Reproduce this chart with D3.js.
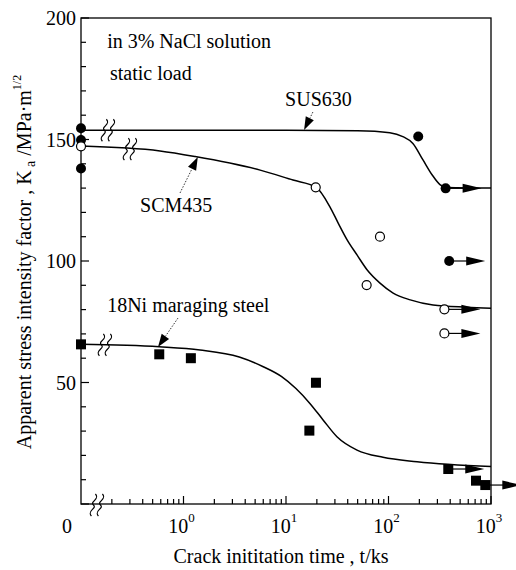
<!DOCTYPE html>
<html><head><meta charset="utf-8">
<script src="https://cdn.jsdelivr.net/npm/d3@7"></script>
<style>
body{margin:0;background:#fff}
</style>
</head><body>
<svg id="chart" width="516" height="570" font-family="'Liberation Serif', 'Times New Roman', Times, serif"></svg>
<script>
// ---------- data (t in ks, K in MPa·m^1/2; t = 0 means the "0" position before the axis break) ----------
const sus630Points  = [[0,154.6],[0,149.8],[0,138.1],[195,151.2]];
const sus630Runouts = [[361,129.9],[391,100.0]];
const scm435Points  = [[0,147.2],[19.5,130.3],[82.6,110.0],[61.2,90.1]];
const scm435Runouts = [[351,80.1],[351,70.2]];
const ni18Points    = [[0,65.7],[0.58,61.6],[1.18,60.0],[19.6,49.9],[16.9,30.2],[714,9.6]];
const ni18Runouts   = [[383,14.4],[880,7.8]];

const sus630Curve = [[0,153.8],[1,153.8],[10,153.8],[50,153.6],[103,152.8],[138,151.2],[173,148.4],[217,141.6],[267,135.4],[320,131.3],[374,130.2],[1000,130.0]];
const scm435Curve = [[0,147.3],[0.59,145.3],[1.3,143.0],[5.6,137.4],[11.7,133.3],[19.6,130.4],[26.9,122.2],[32.3,115.6],[39.6,108.6],[49.3,102.5],[62,96.3],[82.6,90.9],[111,86.8],[163,84.0],[272,81.9],[580,81.0],[1000,80.6]];
const ni18Curve   = [[0,65.7],[0.58,64.7],[1.45,63.4],[3.5,60.5],[6,56.5],[9,52.5],[12.5,47.5],[17.1,41.4],[23,34.6],[31.4,27.7],[49.3,22.2],[88.4,19.2],[190,17.4],[1000,15.4]];

// curve breaks [t, K]
const curveBreaks = [[0.183,153.8],[0.30,146.0],[0.171,65.5]];
const axisBreakT = 0.143;

const yTicks = [0,50,100,150,200];
const yMinorTicks = d3.range(10,200,10).filter(v => v % 50 !== 0);
const xTickExps = [0,1,2,3];

// annotations: text, t, K (baseline start)
const noteTexts = [
  {text:"in 3% NaCl solution", t:0.18, K:187.6},
  {text:"static load", t:0.192, K:174.5},
  {text:"SUS630", t:9.8, K:163.8},
  {text:"SCM435", t:0.377, K:120.2},
  {text:"18Ni maraging steel", t:0.18, K:79.0}
];
// pointer arrows: from [t,K] to [t,K]
const pointers = [
  {from:[18.3,161.3], to:[15.0,153.9]},
  {from:[0.925,128.0], to:[1.38,142.8]},
  {from:[0.883,76.5], to:[0.564,64.6]}
];

// ---------- chart ----------
const svg = d3.select("#chart");
const x = d3.scaleLog().domain([0.1,1000]).range([81,491]);
const y = d3.scaleLinear().domain([0,200]).range([504,18]);
const X = t => t === 0 ? x.range()[0] : x(t);

// frame
svg.append("rect").attr("x",81).attr("y",18).attr("width",410).attr("height",486)
  .attr("fill","none").attr("stroke","#000").attr("stroke-width",1.3);

// y ticks
const g = svg.append("g");
yTicks.forEach(v => {
  g.append("line").attr("x1",81).attr("x2",89).attr("y1",y(v)).attr("y2",y(v)).attr("stroke","#000").attr("stroke-width",1.2);
  if (v !== 0) g.append("text").attr("x",76).attr("y",y(v)).attr("dy","0.35em").attr("text-anchor","end")
    .attr("font-size",20).text(v);
});
yMinorTicks.forEach(v => {
  g.append("line").attr("x1",81).attr("x2",86).attr("y1",y(v)).attr("y2",y(v)).attr("stroke","#000").attr("stroke-width",1.2);
});

// x ticks
const minorX = [];
for (let e=-1; e<3; e++) for (let m=2; m<=9; m++) minorX.push(m*Math.pow(10,e));
minorX.forEach(t => {
  g.append("line").attr("x1",x(t)).attr("x2",x(t)).attr("y1",504).attr("y2",499).attr("stroke","#000").attr("stroke-width",1.2);
});
xTickExps.forEach(e => {
  const t = Math.pow(10,e);
  g.append("line").attr("x1",x(t)).attr("x2",x(t)).attr("y1",504).attr("y2",496).attr("stroke","#000").attr("stroke-width",1.2);
  const tx = g.append("text").attr("x",x(t)-2).attr("y",533).attr("text-anchor","middle").attr("font-size",20);
  tx.append("tspan").text("10");
  tx.append("tspan").attr("font-size",13).attr("dy",-11).text(e);
});
g.append("text").attr("x",X(0)-14).attr("y",533).attr("text-anchor","middle").attr("font-size",20).text("0");

// break symbol
function breakSym(cx, cy, h) {
  const p = d3.path();
  [-3.5, 3.5].forEach(dx => {
    const xx = cx + dx;
    p.moveTo(xx + 2, cy - h/2);
    p.bezierCurveTo(xx + 7, cy - h/4, xx - 4, cy - h/6, xx, cy);
    p.bezierCurveTo(xx + 4, cy + h/6, xx - 7, cy + h/4, xx - 2, cy + h/2);
  });
  return p.toString();
}
svg.append("path").attr("d", breakSym(x(axisBreakT), y(0)+1, 22)).attr("fill","none").attr("stroke","#000").attr("stroke-width",1.2);

// curves
const line = d3.line().x(d => X(d[0])).y(d => y(d[1])).curve(d3.curveMonotoneX);
[sus630Curve, scm435Curve, ni18Curve].forEach(c => {
  svg.append("path").attr("d", line(c)).attr("fill","none").attr("stroke","#000").attr("stroke-width",1.5);
});
curveBreaks.forEach(b => {
  svg.append("path").attr("d", breakSym(x(b[0]), y(b[1]), 22)).attr("fill","none").attr("stroke","#000").attr("stroke-width",1.2);
});

// runout arrows
function runout(t, K) {
  const px = X(t), py = y(K);
  const tip = px + 36;
  svg.append("line").attr("x1",px).attr("x2",tip-18).attr("y1",py).attr("y2",py).attr("stroke","#000").attr("stroke-width",1.2);
  svg.append("path").attr("d",`M${tip},${py}L${tip-19},${py-4.5}L${tip-19},${py+4.5}Z`).attr("fill","#000");
}
[...sus630Runouts, ...scm435Runouts, ...ni18Runouts].forEach(d => runout(d[0], d[1]));

// markers
[...sus630Points, ...sus630Runouts].forEach(d => {
  svg.append("circle").attr("cx",X(d[0])).attr("cy",y(d[1])).attr("r",5).attr("fill","#000");
});
[...scm435Points, ...scm435Runouts].forEach(d => {
  svg.append("circle").attr("cx",X(d[0])).attr("cy",y(d[1])).attr("r",4.5).attr("fill","#fff").attr("stroke","#000").attr("stroke-width",1.2);
});
[...ni18Points, ...ni18Runouts].forEach(d => {
  svg.append("rect").attr("x",X(d[0])-5).attr("y",y(d[1])-5).attr("width",10).attr("height",10).attr("fill","#000");
});

// annotation texts
noteTexts.forEach(n => {
  svg.append("text").attr("x",x(n.t)).attr("y",y(n.K)).attr("font-size",20).text(n.text);
});
// pointer arrows
pointers.forEach(p => {
  const x1 = X(p.from[0]), y1 = y(p.from[1]), x2 = X(p.to[0]), y2 = y(p.to[1]);
  const ang = Math.atan2(y2-y1, x2-x1), L = 13, W = 4.5;
  const bx = x2 - L*Math.cos(ang), by = y2 - L*Math.sin(ang);
  svg.append("line").attr("x1",x1).attr("y1",y1).attr("x2",bx).attr("y2",by)
    .attr("stroke","#000").attr("stroke-width",0.8).attr("stroke-dasharray","1.5,1.5");
  svg.append("path").attr("d",`M${x2},${y2}L${bx - W*Math.sin(ang)},${by + W*Math.cos(ang)}L${bx + W*Math.sin(ang)},${by - W*Math.cos(ang)}Z`).attr("fill","#000");
});

// axis titles
svg.append("text").attr("x",281).attr("y",563).attr("text-anchor","middle").attr("font-size",20)
  .text("Crack inititation time , t/ks");
const yl = svg.append("text").attr("transform","translate(31,262) rotate(-90)").attr("text-anchor","middle").attr("font-size",20);
yl.append("tspan").text("Apparent stress intensity factor , K");
yl.append("tspan").attr("font-size",14).attr("dy",4).text(" a");
yl.append("tspan").attr("dy",-4).text(" /MPa·m");
yl.append("tspan").attr("font-size",12).attr("dy",-10).text("1/2");
</script>
</body></html>
